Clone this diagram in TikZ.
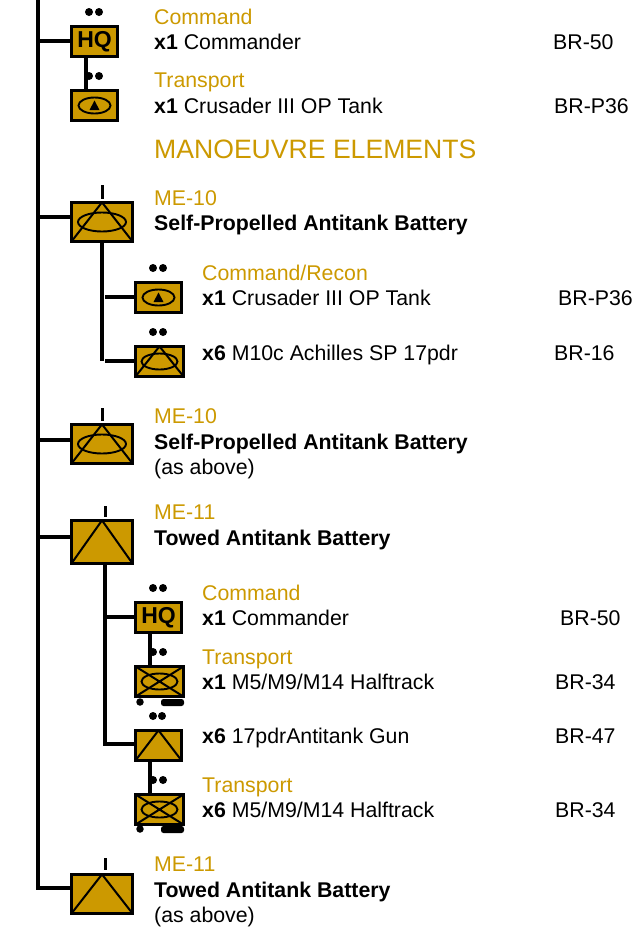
\documentclass[tikz,border=0pt]{standalone}
\usepackage{fontspec}
\setmainfont{Liberation Sans}
\definecolor{khaki}{HTML}{CC9900}
\tikzset{
  x=1pt,y=-1pt,
  unitbox/.style={draw=black,fill=khaki,line width=2.7pt,rectangle,inner sep=0pt,minimum width=#1,minimum height=30.3pt,anchor=north west},
  unitbox/.default=46.3pt,
  big/.style={unitbox=61.3pt,minimum height=39.3pt},
  tri/.style={path picture={\draw[line width=2pt] (path picture bounding box.south west)--(path picture bounding box.north)--(path picture bounding box.south east);}},
  cross/.style={path picture={\draw[line width=2pt] (path picture bounding box.south west)--(path picture bounding box.north east) (path picture bounding box.north west)--(path picture bounding box.south east);}},
  ovalline/.style={line width=1.9pt},
  trunk/.style={line width=4pt,line cap=butt},
  tick/.style={line width=3pt},
  dot/.style={circle,fill=black,inner sep=0pt,minimum size=8pt},
  wheeldot/.style={circle,fill=black,inner sep=0pt,minimum size=7.5pt},
  hd/.style={anchor=base west,text=khaki,font=\fontsize{21.3}{23}\selectfont,inner sep=0pt},
  tx/.style={anchor=base west,text=black,font=\fontsize{21.3}{23}\selectfont,inner sep=0pt},
  hq/.style={font=\fontsize{23}{25}\selectfont\bfseries},
}
\begin{document}
\begin{tikzpicture}
\useasboundingbox (0,0) rectangle (633,930);
% units
\node[unitbox,hq] (hqa) at (70,25) {HQ};
\node[unitbox] (opa) at (70,89) {};
\draw[ovalline] (opa.center) ellipse [x radius=16pt,y radius=8pt];
\fill (opa.center)++(-5,4.5)--++(10,0)--++(-5,-9.5)--cycle;

\node[big,tri] (mea) at (70,201) {};
\draw[ovalline] (mea.center) ellipse [x radius=24pt,y radius=9.5pt];
\node[unitbox] (opb) at (134,281) {};
\draw[ovalline] (opb.center) ellipse [x radius=16pt,y radius=8pt];
\fill (opb.center)++(-5,4.5)--++(10,0)--++(-5,-9.5)--cycle;
\node[unitbox=48.3pt,tri] (mta) at (134,345) {};
\draw[ovalline] (mta.center) ellipse [x radius=18pt,y radius=8pt];

\node[big,tri] (meb) at (70,423) {};
\draw[ovalline] (meb.center) ellipse [x radius=24pt,y radius=9.5pt];

\node[big,tri,minimum height=43.3pt] (mec) at (70,519) {};
\node[unitbox,hq] (hqb) at (134,601) {HQ};
\node[unitbox=48.3pt,cross] (hta) at (134,665) {};
\draw[ovalline] (hta.center) ellipse [x radius=18pt,y radius=8pt];
\node[unitbox,tri] (gun) at (134,729) {};
\node[unitbox=48.3pt,cross] (htb) at (134,793) {};
\draw[ovalline] (htb.center) ellipse [x radius=18pt,y radius=8pt];
\node[big,tri] (med) at (70,873) {};

% wheels
\node[wheeldot] (wa) at (140,702) {};
\node[wheeldot] (wb) at (140,829) {};
\fill[rounded corners=2.5pt] (161,699) rectangle (184,706);
\fill[rounded corners=2.5pt] (161,826) rectangle (184,833);

% formation dots
\foreach \n/\xa/\xb/\y in {a/89/99/12,b/89/99/76,c/153/163/268,d/153/163/332,e/153/163/588,f/153/163/652,g/153/162/716,h/153/163/780}{
  \node[dot] (d\n1) at (\xa,\y) {};
  \node[dot] (d\n2) at (\xb,\y) {};
}

% ticks
\coordinate (ta) at (102,185);\coordinate (tb) at (102,408);\coordinate (tc) at (105,506);\coordinate (td) at (105,858);
\draw[tick] (ta) -- ++(0,14);
\draw[tick] (tb) -- ++(0,13);
\draw[tick] (tc) -- ++(0,11);
\draw[tick] (td) -- ++(0,12);

% trunk
\coordinate (top) at (38,0);
\coordinate (bend) at (38,888);
\draw[trunk,line join=miter] (top) -- (bend) -- (bend -| med.west);
\coordinate (j1) at (38,41);\coordinate (j2) at (38,217);\coordinate (j3) at (38,440);\coordinate (j4) at (38,537);
\draw[trunk] (j1) -- (j1 -| hqa.west);
\draw[trunk] (j2) -- (j2 -| mea.west);
\draw[trunk] (j3) -- (j3 -| meb.west);
\draw[trunk] (j4) -- (j4 -| mec.west);
\draw[trunk] (85.7,58) coordinate (ca) -- (ca |- opa.north);
\draw[trunk] (150,634) coordinate (cb) -- (cb |- hta.north);
\draw[trunk] (150,762) coordinate (cc) -- (cc |- htb.north);

% subordinate lines
\coordinate (s1) at (102,242);\coordinate (s2) at (102,361);
\draw[trunk] (s1) -- (s2);
\coordinate (s3) at (105,297);\coordinate (s4) at (105,361);
\draw[trunk] (s3) -- (s3 -| opb.west);
\draw[trunk] (s4) -- (s4 -| mta.west);
\coordinate (s5) at (105,565);\coordinate (s6) at (105,744);\coordinate (s7) at (105,617);
\draw[trunk] (s5) -- (s6) -- (s6 -| gun.west);
\draw[trunk] (s7) -- (s7 -| hqb.west);

% texts
\node[hd] (t1) at (154,24) {Command};
\node[tx] (t2) at (154,49) {\textbf{x1} Commander};
\node[tx] (t3) at (553,49) {BR-50};
\node[hd] (t4) at (154,87) {Transport};
\node[tx] (t5) at (154,113) {\textbf{x1} Crusader III OP Tank};
\node[tx] (t6) at (554,113) {BR-P36};
\node[hd,font=\fontsize{26.6}{28}\selectfont] (t7) at (154,158) {MANOEUVRE ELEMENTS};
\node[hd] (t8) at (154,205) {ME-10};
\node[tx] (t9) at (154,230) {\textbf{Self-Propelled Antitank Battery}};
\node[hd] (t10) at (202,280) {Command/Recon};
\node[tx] (t11) at (202,305) {\textbf{x1} Crusader III OP Tank};
\node[tx] (t12) at (558,305) {BR-P36};
\node[tx] (t13) at (202,360) {\textbf{x6} M10c Achilles SP 17pdr};
\node[tx] (t14) at (554,360) {BR-16};
\node[hd] (t15) at (154,423) {ME-10};
\node[tx] (t16) at (154,449) {\textbf{Self-Propelled Antitank Battery}};
\node[tx] (t17) at (154,474) {(as above)};
\node[hd] (t18) at (154,519) {ME-11};
\node[tx] (t19) at (154,545) {\textbf{Towed Antitank Battery}};
\node[hd] (t20) at (202,600) {Command};
\node[tx] (t21) at (202,625) {\textbf{x1} Commander};
\node[tx] (t22) at (560,625) {BR-50};
\node[hd] (t23) at (202,664) {Transport};
\node[tx] (t24) at (202,689) {\textbf{x1} M5/M9/M14 Halftrack};
\node[tx] (t25) at (555,689) {BR-34};
\node[tx] (t26) at (202,743) {\textbf{x6} 17pdrAntitank Gun};
\node[tx] (t27) at (555,743) {BR-47};
\node[hd] (t28) at (202,792) {Transport};
\node[tx] (t29) at (202,817) {\textbf{x6} M5/M9/M14 Halftrack};
\node[tx] (t30) at (555,817) {BR-34};
\node[hd] (t31) at (154,871) {ME-11};
\node[tx] (t32) at (154,897) {\textbf{Towed Antitank Battery}};
\node[tx] (t33) at (154,922) {(as above)};
\end{tikzpicture}
\end{document}
